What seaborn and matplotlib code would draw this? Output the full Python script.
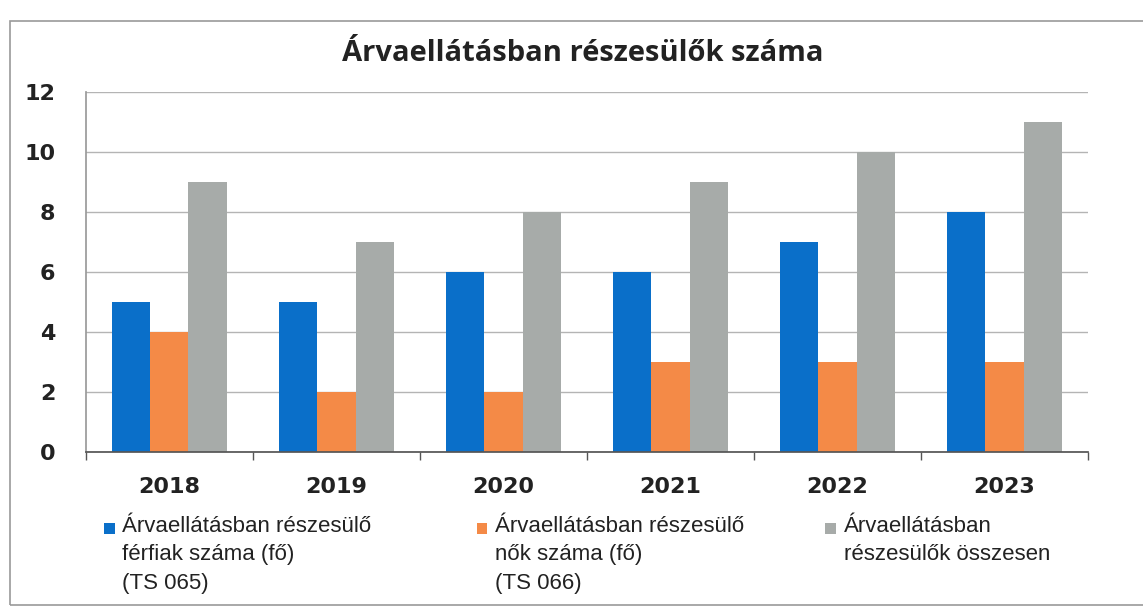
import numpy as np
import pandas as pd
import matplotlib.pyplot as plt
import seaborn as sns

years = ["2018", "2019", "2020", "2021", "2022", "2023"]
ferfiak = [5, 5, 6, 6, 7, 8]
nok = [4, 2, 2, 3, 3, 3]
osszesen = [9, 7, 8, 9, 10, 11]

series_labels = [
    "Árvaellátásban részesülő\nférfiak száma (fő)\n(TS 065)",
    "Árvaellátásban részesülő\nnők száma (fő)\n(TS 066)",
    "Árvaellátásban\nrészesülők összesen",
]
colors = ["#0a6fc9", "#f48a47", "#a7aba9"]

df = pd.DataFrame({
    "year": years * 3,
    "value": ferfiak + nok + osszesen,
    "series": np.repeat(series_labels, len(years)),
})

sns.set_theme(style="white")
plt.rcParams["font.family"] = ["DejaVu Sans"]

fig = plt.figure(figsize=(11.43, 6.11), dpi=100)
ax = fig.add_axes([0.075, 0.26, 0.877, 0.59])

sns.barplot(
    data=df,
    x="year",
    y="value",
    hue="series",
    palette=colors,
    width=0.69,
    saturation=1,
    edgecolor="none",
    ax=ax,
)

ax.set_ylim(0, 12)
ax.set_yticks(range(0, 13, 2))
ax.set_xlim(-0.5, 5.5)
ax.yaxis.grid(True, color="#b4b4b4", linewidth=1)
ax.set_axisbelow(True)
ax.set_xlabel("")
ax.set_ylabel("")
for side in ["top", "right"]:
    ax.spines[side].set_visible(False)
ax.spines["left"].set_color("#9a9a9a")
ax.spines["bottom"].set_color("#555555")
ax.set_xticks(np.arange(-0.5, 6, 1), minor=True)
ax.tick_params(axis="x", which="minor", length=6, width=1, color="#555555",
               direction="out", bottom=True)
ax.tick_params(axis="y", labelsize=16, pad=22, length=0)
ax.tick_params(axis="x", which="major", labelsize=16, pad=18, length=0)
for lbl in ax.get_xticklabels() + ax.get_yticklabels():
    lbl.set_fontweight("bold")
    lbl.set_color("#222222")

fig.text(0.51, 0.913, "Árvaellátásban részesülők száma", ha="center", va="center",
         fontsize=21, fontweight="bold", family=["Open Sans", "DejaVu Sans"],
         color="#222222")

# legend: square marker aligned with the first line of each label
handles, labels = ax.get_legend_handles_labels()
ax.legend_.remove()
legend_x = [0.091, 0.417, 0.722]
for h, lab, x in zip(handles, labels, legend_x):
    fig.add_artist(plt.Rectangle((x, 0.126), 0.0095, 0.018,
                                 transform=fig.transFigure,
                                 facecolor=h.get_facecolor(), edgecolor="none"))
    fig.text(x + 0.016, 0.155, lab, ha="left", va="top", fontsize=16,
             family=["Liberation Sans", "DejaVu Sans"], color="#222222",
             linespacing=1.45)

# chart frame
frame = plt.Rectangle((0.009, 0.01), 1.2, 0.955, transform=fig.transFigure,
                      fill=False, edgecolor="#9a9a9a", linewidth=1.2)
fig.add_artist(frame)

fig.savefig("out.png", dpi=100)
